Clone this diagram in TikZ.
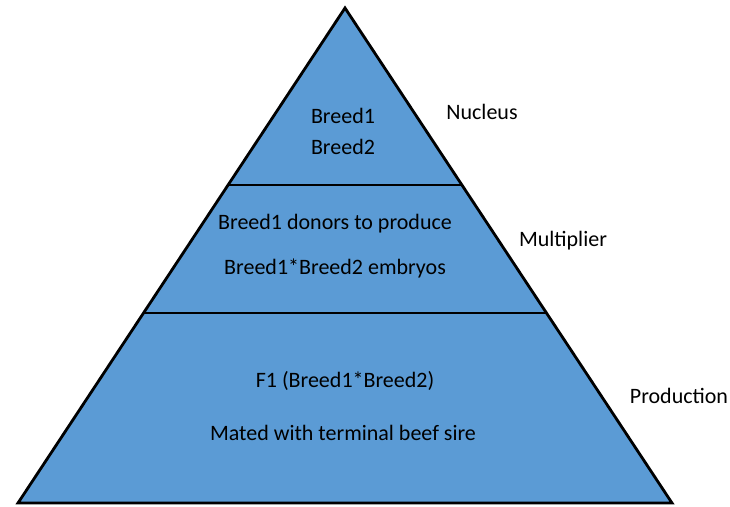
\documentclass[tikz,border=0pt]{standalone}
\usepackage{fontspec}
\setmainfont{Carlito}
\usepackage{xcolor}
\usetikzlibrary{positioning,calc}
\definecolor{pyrblue}{RGB}{91,155,213}
\tikzset{
  layer/.style={draw=black, line width=2.8pt, line join=miter},
  divider/.style={draw=black, line width=2.8pt},
  inlabel/.style={align=center, font=\fontsize{22}{26}\selectfont, inner sep=0pt},
  sidelabel/.style={anchor=center, font=\fontsize{22}{26}\selectfont, inner sep=0pt}
}
\begin{document}
\begin{tikzpicture}[x=1pt, y=-1pt]
    \useasboundingbox (0,0) rectangle (730,506);
    \coordinate (apex) at (345,8);
    \coordinate (bl) at (18,503);
    \coordinate (br) at (672,503);
    \filldraw[layer, fill=pyrblue] (apex) -- (br) -- (bl) -- cycle;
    % tier borders
    \coordinate (n1) at ($(apex)!0.3576!(bl)$);
    \coordinate (n2) at ($(apex)!0.3576!(br)$);
    \coordinate (m1) at ($(apex)!0.6162!(bl)$);
    \coordinate (m2) at ($(apex)!0.6162!(br)$);
    \draw[divider] (n1) -- (n2);
    \draw[divider] (m1) -- (m2);
    % texts
    \node[inlabel] (b1) at (343,116) {Breed1};
    \node[inlabel] (b2) at (343,147) {Breed2};
    \node[inlabel] (donor) at (335,224) {Breed1 donors to produce};
    \node[inlabel] (embryo) at (335,268) {Breed1*Breed2 embryos};
    \node[inlabel] (f1) at (345,381) {F1 (Breed1*Breed2)};
    \node[inlabel] (mated) at (343,433) {Mated with terminal beef sire};
    \node[sidelabel] (nucleus) at (482,112) {Nucleus};
    \node[sidelabel] (multi) at (563,241) {Multiplier};
    \node[sidelabel] (prod) at (679,396) {Production};
\end{tikzpicture}
\end{document}
